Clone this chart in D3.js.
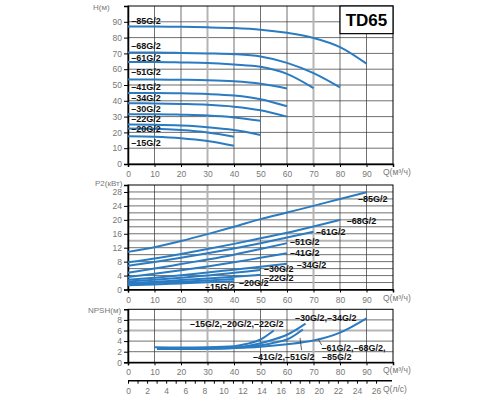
<!DOCTYPE html>
<html>
<head>
<meta charset="utf-8">
<script src="https://cdn.jsdelivr.net/npm/d3@7"></script>
<style>
  body { margin: 0; background: #fff; }
  svg { font-family: "Liberation Sans", Arial, sans-serif; }
</style>
</head>
<body>
<div id="chart"></div>
<script>
// Pump models, smallest first
var models = ["15G/2","20G/2","22G/2","30G/2","34G/2","41G/2","51G/2","61G/2","68G/2","85G/2"];
// Flow grid, m3/h
var qGrid = [0,10,20,30,40,50,60,70,80,90];

// H(m) on qGrid, each curve stops at its own last flow
var headValues = [
  [17.5,17.2,16.3,14.5,11.5],
  [22.5,22.3,21.5,20.0,17.3],
  [25.0,24.8,24.3,23.3,21.5,18.4],
  [31.5,31.5,31.2,30.7,29.5,27.3],
  [38.5,38.3,38.0,37.5,36.3,34.0,30.0],
  [45.0,45.0,44.8,44.3,43.3,41.0,36.5],
  [53.5,53.5,53.3,53.0,52.3,50.8,47.8],
  [64.5,64.5,64.3,64.0,63.0,61.5,57.0,48.0],
  [70.5,70.5,70.3,70.0,69.5,68.0,64.0,57.5,48.5],
  [87.0,87.0,86.8,86.5,86.0,85.0,83.0,79.8,74.0,63.5]
];

// P2(kW) on qGrid
var powerValues = [
  [1.2,1.45,1.75,2.05,2.4],
  [1.5,1.85,2.2,2.6,3.0],
  [1.8,2.2,2.7,3.15,3.65,4.2],
  [2.3,2.8,3.4,4.0,4.8,5.6],
  [2.8,3.4,4.1,4.9,5.7,6.5,7.4],
  [3.6,4.5,5.5,6.6,7.8,9.1,10.4],
  [4.8,6.0,7.3,8.6,10.0,11.6,13.3],
  [6.8,7.9,9.1,10.4,11.8,13.3,14.9,16.6],
  [7.8,8.9,10.2,11.6,13.1,14.7,16.3,18.1,20.0],
  [10.8,12.1,13.9,15.9,18.0,20.2,22.1,24.0,26.0,27.9]
];

// NPSH(m) groups
var npshLabels = ["–15G/2,–20G/2,–22G/2", "–30G/2,–34G/2", "–41G/2,–51G/2", "–61G/2,–68G/2,"];
var npshQ = [
  [10,20,30,40,45,50,55],
  [11,20,30,40,45,50,55,60,67],
  [11,20,30,40,45,50,55,60,66],
  [11,20,30,40,50,60,70,80,90]
];
var npshValues = [
  [2.85,2.8,2.85,3.05,3.5,4.3,6.0],
  [2.5,2.5,2.6,2.8,3.1,3.6,4.3,5.2,7.3],
  [2.5,2.5,2.55,2.7,2.9,3.2,3.7,4.3,6.2],
  [2.55,2.55,2.6,2.7,2.95,3.4,4.1,5.6,8.3]
];

// label anchors in data units [Q, value]
var headLabelY = [13.3,22.2,28.5,34.8,41.8,48.7,58.2,67,74.7,90.5];
var powerLabelPos = [[29.1,0.7],[41.9,1.8],[51.3,3.4],[51.3,5.9],[63.7,6.95],[61.1,10.4],[61.1,13.55],[70.9,16.6],[82.5,19.8],[86.8,25.9]];
var npshLabelPos = [[23.4,7.2],[63,8.3],[47.2,0.95],[73,2.75],[73.2,1.05]];
var npshLeaders = [[[64.9,4.6],[65.5,2.3]], [[71.8,4.35],[73.1,3.25]]];

var qTicks = [0,10,20,30,40,50,60,70,80,90];

var W = 500, H = 400;
var blue = "#2a7bc1";

var svg = d3.select("#chart").append("svg")
    .attr("width", W)
    .attr("height", H);

var x = d3.scaleLinear().domain([0,100]).range([128,393]);
var xls = d3.scaleLinear().domain([0,100/3.6]).range([128,393]);

var panels = [
  { y: d3.scaleLinear().domain([0,100]).range([164,6]), step: 10, label: 10, grey: 50, name: "H(м)", nx: 93, ny: 10 },
  { y: d3.scaleLinear().domain([0,30]).range([289.5,185]), step: 2, label: 4, grey: 14, name: "P2(кВт)", nx: 95, ny: 186 },
  { y: d3.scaleLinear().domain([0,10]).range([362.3,309.3]), step: 2, label: 2, grey: 6, name: "NPSH(м)", nx: 88, ny: 313 }
];

panels.forEach(function(p) {
  var g = svg.append("g");
  var y = p.y;
  var top = y.range()[1], bot = y.range()[0];
  var hTicks = d3.range(p.step, y.domain()[1], p.step);

  g.selectAll(".hgrid").data(hTicks).enter().append("line")
      .attr("x1", x(0)).attr("x2", x(100))
      .attr("y1", function(d) { return y(d); })
      .attr("y2", function(d) { return y(d); })
      .attr("stroke", function(d) { return d == p.grey ? "#b5b5b5" : "#333"; })
      .attr("stroke-width", function(d) { return d == p.grey ? 2 : 0.7; });

  g.selectAll(".vgrid").data(d3.range(10,100,10)).enter().append("line")
      .attr("y1", top).attr("y2", bot)
      .attr("x1", function(d) { return x(d); })
      .attr("x2", function(d) { return x(d); })
      .attr("stroke", function(d) { return (d == 30 || d == 70) ? "#b5b5b5" : "#333"; })
      .attr("stroke-width", function(d) { return (d == 30 || d == 70) ? 2 : 0.7; });

  // frame
  g.append("rect")
      .attr("x", x(0)).attr("y", top)
      .attr("width", x(100) - x(0)).attr("height", bot - top)
      .attr("fill", "none").attr("stroke", "#000").attr("stroke-width", 1);

  var yAxis = d3.axisLeft(y)
      .tickValues(d3.range(0, y.domain()[1], p.label))
      .tickSize(4).tickPadding(2);
  g.append("g").attr("transform", "translate(" + x(0) + ",0)").call(yAxis);

  var xAxis = d3.axisBottom(x).tickValues(qTicks).tickSize(3).tickPadding(4);
  g.append("g").attr("transform", "translate(0," + bot + ")").call(xAxis);

  g.selectAll(".domain").attr("stroke", "#000").attr("stroke-width", 1.5);
  g.selectAll(".tick line").attr("stroke", "#000");
  g.selectAll(".tick text").attr("fill", "#777").style("font-size", "8.5px");

  g.append("text")
      .attr("x", x(100) - 10).attr("y", bot + 11)
      .attr("fill", "#777").style("font-size", "8.5px")
      .text("Q(м³/ч)");

  g.append("text")
      .attr("x", p.nx).attr("y", p.ny)
      .attr("fill", "#777").style("font-size", "8px")
      .text(p.name);
});

var line = d3.line().curve(d3.curveMonotoneX);
var textColor = "#111";

// H curves
var yH = panels[0].y;
svg.selectAll(".head").data(headValues).enter().append("path")
    .attr("fill", "none").attr("stroke", blue).attr("stroke-width", 2)
    .attr("d", function(d) {
      return line(d.map(function(v, i) { return [x(qGrid[i]), yH(v)]; }));
    });
svg.selectAll(".headlab").data(models).enter().append("text")
    .attr("x", x(1.2))
    .attr("y", function(d, i) { return yH(headLabelY[i]); })
    .attr("dy", "0.35em")
    .attr("fill", textColor).attr("font-weight", "bold").style("font-size", "9px")
    .text(function(d) { return "–" + d; });

// model box
svg.append("rect")
    .attr("x", x(80)).attr("y", yH(100))
    .attr("width", x(100) - x(80)).attr("height", yH(82.5) - yH(100))
    .attr("fill", "#fff").attr("stroke", "#000").attr("stroke-width", 1.2);
svg.append("text")
    .attr("x", x(90)).attr("y", yH(91.2)).attr("dy", "0.35em")
    .attr("text-anchor", "middle").attr("font-weight", "bold").style("font-size", "17px")
    .text("TD65");

// P2 curves
var yP = panels[1].y;
svg.selectAll(".power").data(powerValues).enter().append("path")
    .attr("fill", "none").attr("stroke", blue).attr("stroke-width", 2)
    .attr("d", function(d) {
      return line(d.map(function(v, i) { return [x(qGrid[i]), yP(v)]; }));
    });
svg.selectAll(".powlab").data(models).enter().append("text")
    .attr("x", function(d, i) { return x(powerLabelPos[i][0]); })
    .attr("y", function(d, i) { return yP(powerLabelPos[i][1]); })
    .attr("dy", "0.35em")
    .attr("fill", textColor).attr("font-weight", "bold").style("font-size", "9px")
    .text(function(d) { return "–" + d; });

// NPSH curves
var yN = panels[2].y;
svg.selectAll(".npsh").data(npshValues).enter().append("path")
    .attr("fill", "none").attr("stroke", blue).attr("stroke-width", 2)
    .attr("d", function(d, k) {
      return line(d.map(function(v, i) { return [x(npshQ[k][i]), yN(v)]; }));
    });
svg.selectAll(".npshlead").data(npshLeaders).enter().append("line")
    .attr("x1", function(d) { return x(d[0][0]); })
    .attr("y1", function(d) { return yN(d[0][1]); })
    .attr("x2", function(d) { return x(d[1][0]); })
    .attr("y2", function(d) { return yN(d[1][1]); })
    .attr("stroke", "#333").attr("stroke-width", 0.8);
svg.selectAll(".npshlab").data(npshLabels.concat(["–85G/2"])).enter().append("text")
    .attr("x", function(d, i) { return x(npshLabelPos[i][0]); })
    .attr("y", function(d, i) { return yN(npshLabelPos[i][1]); })
    .attr("dy", "0.35em")
    .attr("fill", textColor).attr("font-weight", "bold").style("font-size", "9px")
    .text(function(d) { return d; });

// second flow axis, l/s
var lsAxis = d3.axisBottom(xls)
    .tickValues(d3.range(0, 27, 1))
    .tickSize(3).tickPadding(4)
    .tickFormat(function(d) { return d % 2 == 0 ? d : ""; });
var ga = svg.append("g").attr("transform", "translate(0,380.7)").call(lsAxis);
ga.select(".domain").attr("stroke", "#000").attr("stroke-width", 1.5).attr("d", "M128,0H392");
ga.selectAll(".tick line").attr("stroke", "#000");
ga.selectAll(".tick text").attr("fill", "#777").style("font-size", "8.5px");
svg.append("text")
    .attr("x", 383).attr("y", 392)
    .attr("fill", "#777").style("font-size", "8.5px")
    .text("Q(л/с)");
</script>
</body>
</html>
